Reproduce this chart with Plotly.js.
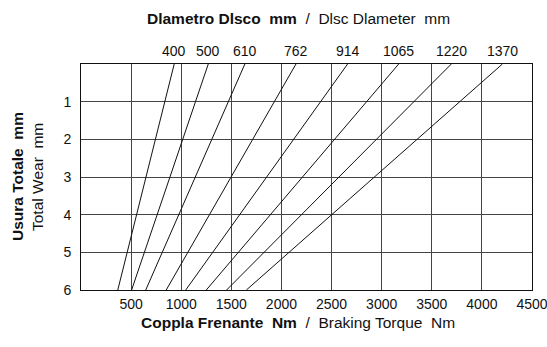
<!DOCTYPE html>
<html>
<head>
<meta charset="utf-8">
<script src="https://cdn.plot.ly/plotly-3.0.1.min.js"></script>
<style>html,body{margin:0;padding:0;background:#fff;}#chart{width:547px;height:347px;}</style>
</head>
<body>
<div id="chart"></div>
<script>
// Disc diameters (mm) – one line per disc
const diameters = ['400', '500', '610', '762', '914', '1065', '1220', '1370'];
// Braking torque (Nm) where each line meets wear = 0 mm (top edge)
const torqueAtZeroWear = [930, 1270, 1635, 2145, 2660, 3170, 3695, 4205];
// Braking torque (Nm) where each line meets wear = 6 mm (bottom edge)
const torqueAtSixWear = [367, 505, 646, 850, 1045, 1250, 1453, 1650];
// Wear endpoints (mm)
const wearEnds = [0, 6];
// Axis ticks
const xTicks = [500, 1000, 1500, 2000, 2500, 3000, 3500, 4000, 4500];
const yTicks = [1, 2, 3, 4, 5, 6];

const FONT = 'Liberation Sans, Arial, sans-serif';
const NUMFONT = 'Liberation Sans Narrow, Arial Narrow, Liberation Sans, sans-serif';

const traces = diameters.map((d, i) => ({
  type: 'scatter',
  mode: 'lines',
  name: d,
  x: [torqueAtZeroWear[i], torqueAtSixWear[i]],
  y: wearEnds,
  line: {color: '#111', width: 1},
  hoverinfo: 'skip',
  showlegend: false
}));

const annotations = diameters.map((d, i) => ({
  x: torqueAtZeroWear[i], y: 0, xref: 'x', yref: 'y',
  text: d, showarrow: false, yanchor: 'bottom', yshift: 3,
  font: {family: NUMFONT, size: 14, color: '#111'}
}));

annotations.push({
  xref: 'paper', yref: 'paper', x: 0.482, y: 1, yanchor: 'middle', yshift: 46,
  text: '<b>Dlametro Dlsco  mm</b>  /  Dlsc Dlameter  mm', showarrow: false,
  font: {family: FONT, size: 15.5, color: '#111'}
});
annotations.push({
  xref: 'paper', yref: 'paper', x: 0.482, y: 0, yanchor: 'middle', yshift: -32,
  text: '<b>Coppla Frenante  Nm</b>  /  Braking Torque  Nm', showarrow: false,
  font: {family: FONT, size: 15.5, color: '#111'}
});
annotations.push({
  xref: 'paper', yref: 'paper', x: 0, y: 0.5, xanchor: 'center', xshift: -64,
  text: '<b>Usura Totale  mm</b>', showarrow: false, textangle: -90,
  font: {family: FONT, size: 15.5, color: '#111'}
});
annotations.push({
  xref: 'paper', yref: 'paper', x: 0, y: 0.5, xanchor: 'center', xshift: -44,
  text: 'Total Wear  mm', showarrow: false, textangle: -90,
  font: {family: FONT, size: 15.5, color: '#111'}
});

const layout = {
  width: 547, height: 347,
  margin: {l: 81, r: 15, t: 64, b: 57},
  paper_bgcolor: '#fff', plot_bgcolor: '#fff',
  showlegend: false,
  xaxis: {
    range: [0, 4500], tickvals: xTicks, ticktext: xTicks.map(String),
    showgrid: true, gridcolor: '#444', gridwidth: 1,
    showline: true, linecolor: '#111', linewidth: 1, mirror: true,
    ticks: '', zeroline: false, ticklabelstandoff: 1,
    ticklabeloverflow: 'allow',
    tickfont: {family: NUMFONT, size: 14, color: '#111'}
  },
  yaxis: {
    range: [6, 0], tickvals: yTicks, ticktext: yTicks.map(String),
    showgrid: true, gridcolor: '#444', gridwidth: 1,
    showline: true, linecolor: '#111', linewidth: 1, mirror: true,
    ticks: '', zeroline: false, ticklabelstandoff: 6,
    ticklabeloverflow: 'allow',
    tickfont: {family: NUMFONT, size: 14, color: '#111'}
  },
  annotations: annotations
};

Plotly.newPlot('chart', traces, layout, {displayModeBar: false, staticPlot: true});
</script>
</body>
</html>
